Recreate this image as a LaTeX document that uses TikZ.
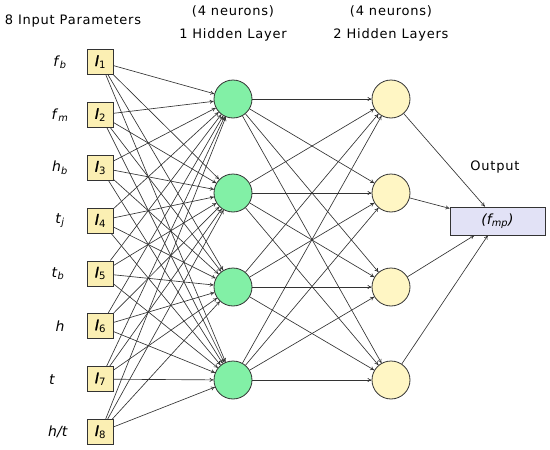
\documentclass[tikz,border=0pt]{standalone}
\usepackage{fontspec}
\setmainfont{DejaVu Sans}
\usetikzlibrary{arrows.meta}
\definecolor{inbox}{HTML}{FBEFB3}
\definecolor{hidA}{HTML}{82F0A6}
\definecolor{hidB}{HTML}{FFF6C4}
\definecolor{outbox}{HTML}{E2E2F6}
\definecolor{edge}{HTML}{333333}
\newcommand{\insym}[1]{{\itshape\addfontfeature{FakeBold=1.6}I}\textsubscript{\normalfont #1}}
\newcommand{\varsym}[2]{\textit{#1}\textsubscript{\textit{#2}}}
\begin{document}
\begin{tikzpicture}[x=1pt,y=-1pt,
  inputbox/.style={draw=edge,fill=inbox,line width=0.8pt,minimum width=26pt,minimum height=25pt,inner sep=0pt,font=\fontsize{14.5}{14.5}\selectfont},
  neuronA/.style={circle,draw=edge,fill=hidA,line width=0.8pt,minimum size=38pt,inner sep=0pt},
  neuronB/.style={circle,draw=edge,fill=hidB,line width=0.8pt,minimum size=38pt,inner sep=0pt},
  outnode/.style={draw=edge,fill=outbox,line width=0.8pt,minimum width=95pt,minimum height=28pt,inner sep=0pt,font=\fontsize{14}{14}\selectfont},
  varlabel/.style={font=\fontsize{14}{14}\selectfont},
  head/.style={font=\fontsize{13}{13}\selectfont\addfontfeature{LetterSpace=6}},
  conn/.style={draw=edge,line width=0.65pt,-{To[length=4pt,width=4pt]}}]
\useasboundingbox (0,0) rectangle (550,450);
% headers
\node[head] (h0) at (73,21) {8 Input Parameters};
\node[head] (h1a) at (233,11) {(4 neurons)};
\node[head] (h1b) at (233,35) {1 Hidden Layer};
\node[head] (h2a) at (391,11) {(4 neurons)};
\node[head] (h2b) at (391,35) {2 Hidden Layers};
\node[head] (ho) at (495,167) {Output};
% inputs
\foreach \i in {1,...,8}{
  \pgfmathsetmacro{\yy}{62+(\i-1)*52.86}
  \node[inputbox] (I\i) at (100.5,\yy) {\insym{\i}};
}
\node[varlabel] (L1) at (I1-|60,0) {\varsym{f}{b}};
\node[varlabel] (L2) at (I2-|60,0) {\varsym{f}{m}};
\node[varlabel] (L3) at (I3-|60,0) {\varsym{h}{b}};
\node[varlabel] (L4) at (I4-|60,0) {\varsym{t}{j}};
\node[varlabel] (L5) at (I5-|58,0) {\varsym{t}{b}};
\node[varlabel] (L6) at (I6-|60,0) {\textit{h}};
\node[varlabel] (L7) at (I7-|52,0) {\textit{t}};
\node[varlabel] (L8) at (I8-|58,0) {\textit{h/t}};
% hidden layers
\foreach \j/\yy in {1/99,2/193,3/287,4/380}{
  \node[neuronA] (A\j) at (233,\yy) {};
  \node[neuronB] (B\j) at (391,\yy) {};
}
\node[outnode] (O) at (497.5,221) {\textit{(f\textsubscript{mp})}};
% connections
\foreach \i in {1,...,8}{\foreach \j in {1,...,4}{\draw[conn] (I\i) -- (A\j);}}
\foreach \i in {1,...,4}{\foreach \j in {1,...,4}{\draw[conn] (A\i) -- (B\j);}}
\foreach \j in {1,...,4}{\draw[conn] (B\j) -- (O);}
\end{tikzpicture}
\end{document}
